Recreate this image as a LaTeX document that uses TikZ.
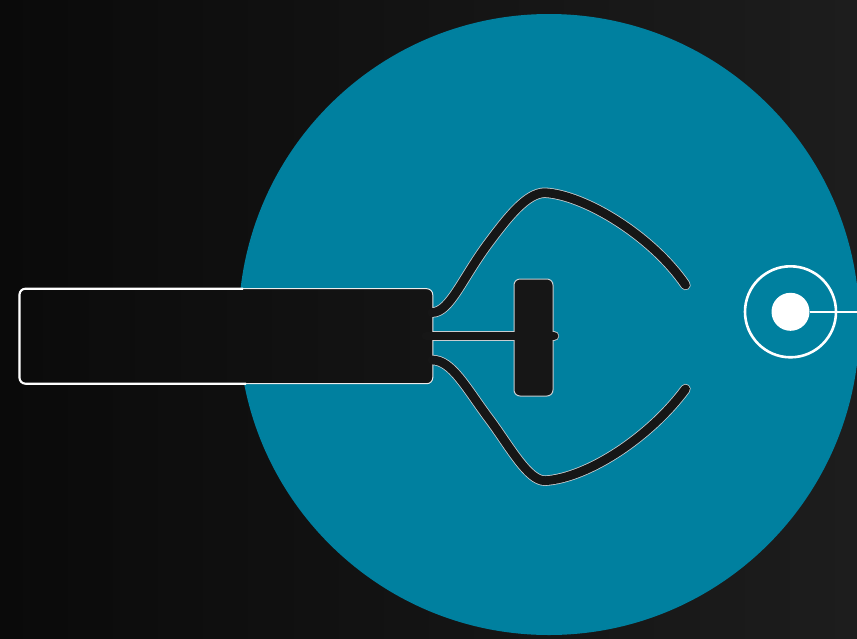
\documentclass[tikz,border=0pt]{standalone}
\usepackage{xcolor}
\definecolor{teal1}{HTML}{00809F}
\definecolor{ink}{HTML}{161616}
\definecolor{edge}{HTML}{C8CDD0}
\definecolor{bgL}{HTML}{0A0A0A}
\definecolor{bgR}{HTML}{1D1D1D}
\definecolor{boxL}{HTML}{0B0B0B}
\definecolor{boxR}{HTML}{141414}
\tikzset{
  wireout/.style={draw=edge,line width=10.4pt,line cap=round,line join=round},
  wirein/.style={draw=ink,line width=8.8pt,line cap=round,line join=round},
  handlebox/.style={rectangle,rounded corners=6pt,minimum width=413.5pt,minimum height=95pt,inner sep=0pt,left color=boxL,right color=boxR,draw=white!85!gray,line width=1pt},
  handleedge/.style={draw=white,line width=2.1pt,rounded corners=6pt},
  crossbox/.style={rectangle,rounded corners=6pt,minimum width=39pt,minimum height=117pt,inner sep=0pt,fill=ink,draw=edge,line width=1pt},
  ring/.style={circle,minimum size=91pt,inner sep=0pt,draw=white,line width=2.6pt},
  dot/.style={circle,minimum size=38pt,inner sep=0pt,fill=white},
  lead/.style={draw=white,line width=2.3pt}
}
\newcommand{\upperwire}{(432,312.5) .. controls (450,312.5) and (462,278) .. (490,241) .. controls (508,217) and (527,192.7) .. (545,192.7) .. controls (585,195) and (652,236) .. (685.5,285)}
\newcommand{\lowerwire}{(432,360) .. controls (452,360) and (466,388) .. (490,420) .. controls (510,447) and (528,480.7) .. (545,480.7) .. controls (588,478) and (650,437) .. (685.5,389)}
\begin{document}
\begin{tikzpicture}[x=1pt,y=-1pt]
\useasboundingbox (0,0) rectangle (857,638);
\shade[left color=bgL,right color=bgR] (0,0) rectangle (857,638);
\fill[teal1] (549,324.5) circle[radius=310.5];
\draw[wireout] \upperwire;
\draw[wireout] \lowerwire;
\draw[wireout] (432,336) -- (554,336);
\node[handlebox] (handle) at (226,336.2) {};
\draw[handleedge] (243,288.7) -- (19.5,288.7) -- (19.5,383.7) -- (246,383.7);
\node[crossbox] (cross) at (533.5,337.5) {};
\draw[wirein] (426,336) -- (554,336);
\draw[wirein] \upperwire;
\draw[wirein] \lowerwire;
\node[ring] (outer) at (790.5,311.8) {};
\node[dot] (inner) at (790.5,311.8) {};
\coordinate (exit) at (857,311.8);
\draw[lead] (inner) -- (exit);
\end{tikzpicture}
\end{document}
